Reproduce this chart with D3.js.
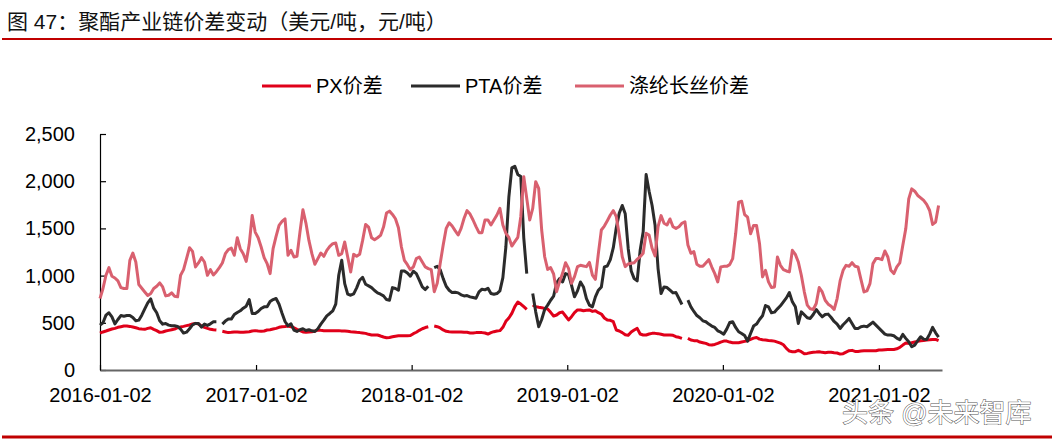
<!DOCTYPE html>
<html><head><meta charset="utf-8">
<script src="https://cdn.jsdelivr.net/npm/d3@7"></script>
<style>body{margin:0;background:#fff} svg{display:block}</style>
</head><body>
<svg id="c" width="1054" height="439"></svg>
<script>
// ---- data (weekly observations starting 2016-01-02) ----
const startDate = "2016-01-02";
const seriesNames = ["PX价差", "PTA价差", "涤纶长丝价差"];
const xTickLabels = ["2016-01-02", "2017-01-02", "2018-01-02", "2019-01-02", "2020-01-02", "2021-01-02"];
const yTicks = [0, 500, 1000, 1500, 2000, 2500];

const pxSpread = [
390,403,413,424,434,441,452,459,466,466,
462,455,448,438,434,431,441,448,431,417,
399,403,413,420,427,434,448,455,462,470,
477,487,494,487,466,452,441,431,427,424,
null,410,403,396,399,403,403,399,399,403,
406,413,417,413,410,413,424,427,434,441,
452,459,462,466,459,448,431,417,403,399,
403,406,413,424,420,417,417,417,417,417,
417,413,413,410,406,403,399,396,392,388,
378,371,371,371,360,350,342,345,352,358,
362,363,363,363,365,385,400,420,437,450,
458,null,466,459,445,424,410,406,403,403,
403,403,399,399,392,392,396,396,396,392,
381,396,406,413,417,452,516,551,600,671,
720,699,671,643,null,689,671,664,660,653,
646,611,572,583,607,614,572,530,565,607,
636,636,628,632,636,621,628,607,593,551,
530,526,512,424,413,396,374,367,403,424,
441,381,371,371,381,388,388,385,378,371,
371,371,367,353,346,335,null,335,318,311,
311,296,289,282,268,264,271,282,296,306,
306,296,289,289,289,296,303,310,324,338,
345,327,320,317,313,310,306,296,285,268,
229,201,194,194,208,194,173,176,183,187,
190,194,187,183,187,187,183,180,169,173,
190,204,208,197,197,201,204,204,204,204,
204,211,211,215,218,218,218,225,239,264,
285,282,289,296,303,310,313,317,320,324,
324,310];

const ptaSpread = [
475,500,581,606,563,489,535,577,570,577,
577,556,521,528,581,648,711,753,655,606,
521,486,493,475,468,468,461,433,391,401,
437,479,493,493,454,486,472,489,511,511,
null,486,518,539,539,588,609,627,655,676,
746,599,599,620,651,669,669,725,746,757,
697,602,514,468,489,423,408,426,437,419,
426,415,408,437,486,528,574,599,627,697,
1004,1162,915,803,792,806,870,951,982,908,
891,873,842,817,803,785,746,739,873,863,
845,1049,1049,1028,993,1046,1021,951,880,852,
887,null,1085,1099,1063,968,887,845,820,824,
817,796,785,789,775,768,761,827,856,849,
866,810,803,810,838,979,1303,1831,2141,2158,
2070,2049,1400,1021,null,810,616,458,535,641,
687,739,782,922,968,933,1021,1011,898,775,
838,933,880,757,687,669,775,845,880,1092,
1102,1169,1296,1507,1662,1743,1655,1285,1049,968,
944,1268,1461,2070,1894,1743,1532,1074,810,880,
873,845,817,820,757,694,null,739,669,620,
577,553,521,511,486,465,451,415,401,380,
433,503,511,451,405,387,366,306,387,465,
486,535,574,683,669,606,613,648,680,722,
764,820,722,669,493,616,585,553,546,588,
641,599,563,588,592,556,514,486,440,479,
511,546,493,440,440,458,465,458,482,507,
475,444,412,380,370,370,363,338,320,377,
335,299,246,264,310,352,327,324,380,451,
394,349];

const filamentSpread = [
757,863,1004,1084,993,975,944,873,863,863,
1162,1239,1144,905,866,827,789,810,863,887,
922,880,785,792,817,782,775,1003,1063,1180,
1296,1257,1092,1134,1190,1144,1003,1063,1007,1042,
1084,1134,1232,1275,1292,1215,1401,1285,1232,1151,
1331,1637,1461,1401,1303,1190,1127,1021,1285,1415,
1532,1574,1602,1215,1268,1197,1204,1461,1697,1556,
1373,1232,1120,1180,1239,1204,1268,1310,1338,1345,
1215,1232,1356,1197,1039,1225,1204,1225,1373,1542,
1514,1401,1380,1401,1426,1514,1662,1683,1648,1602,
1507,1303,1162,1116,1063,1092,1180,1197,1144,1092,
1074,1063,830,918,1130,1324,1500,1560,1525,1476,
1430,1500,1607,1688,1652,1589,1518,1455,1455,1589,
1589,1536,1589,1642,1712,1536,1448,1405,1313,1359,
1405,1624,2048,1818,1589,1712,1995,1924,1483,1200,
1066,1084,1017,830,936,1024,1137,1077,918,989,
1095,1109,1102,1095,1140,1006,960,1236,1483,1525,
1582,1642,1688,1624,1430,1200,1095,1123,1130,1137,
1172,1200,1236,1448,1430,1289,1208,1518,1635,1554,
1536,1600,1518,1500,1518,1554,1571,1324,1236,1254,
1120,1098,1098,1133,1169,1091,1021,933,1091,1098,
1098,1116,1179,1443,1778,1788,1647,1619,1443,1531,
1531,1338,986,1056,933,873,880,1197,1109,1063,
1049,1039,1268,1225,1144,1004,828,687,648,641,
704,873,827,739,697,676,641,757,944,1056,
1109,1099,1137,1099,1092,958,827,838,915,1127,
1180,1180,1169,1261,1197,1056,1021,1092,1134,1320,
1496,1813,1919,1894,1849,1824,1796,1754,1690,1542,
1567,1743];

// ---- chart ----
const colors = ["#e0001a", "#2b2b2b", "#d9606f"];
const parse = d3.timeParse("%Y-%m-%d");
const t0 = parse(startDate);
const dates = d3.range(pxSpread.length).map(i => d3.timeDay.offset(t0, 7 * i));

const svg = d3.select("#c");
const latin = "'Liberation Sans', Arial, 'Noto Sans CJK SC', sans-serif";

// title + rules
svg.append("text").attr("x", 7).attr("y", 29)
  .attr("font-family", latin).attr("font-size", 21).attr("fill", "#111")
  .text("图 47：聚酯产业链价差变动（美元/吨，元/吨）");
svg.append("line").attr("x1", 2).attr("x2", 1052).attr("y1", 39).attr("y2", 39)
  .attr("stroke", "#c00000").attr("stroke-width", 2);
svg.append("line").attr("x1", 2).attr("x2", 1052).attr("y1", 437).attr("y2", 437)
  .attr("stroke", "#c00000").attr("stroke-width", 3);

const x = d3.scaleTime().domain([parse("2016-01-02"), parse("2021-05-30")]).range([100, 942]);
const y = d3.scaleLinear().domain([0, 2500]).range([370, 134]);

// y axis
const ya = svg.append("g").attr("transform", "translate(100,0)")
  .call(d3.axisLeft(y).tickValues(yTicks).tickSize(-6).tickSizeOuter(0).tickPadding(25).tickFormat(d3.format(",")));
ya.select(".domain").attr("stroke", "#000").attr("stroke-width", 1.2);
ya.selectAll(".tick line").attr("stroke", "#000").attr("stroke-width", 1.2);
ya.selectAll("text").attr("font-family", latin).attr("font-size", 20).attr("fill", "#000");

// x axis
const xa = svg.append("g").attr("transform", "translate(0,370)")
  .call(d3.axisBottom(x).tickValues(xTickLabels.map(parse)).tickSize(-5).tickSizeOuter(0).tickPadding(18)
    .tickFormat(d3.timeFormat("%Y-%m-%d")));
xa.select(".domain").attr("stroke", "#666").attr("stroke-width", 2);
xa.selectAll(".tick line").attr("stroke", "#000").attr("stroke-width", 1.2);
xa.selectAll("text").attr("font-family", latin).attr("font-size", 20).attr("fill", "#000");

// lines
const line = d3.line().defined(d => d[1] != null).x(d => x(d[0])).y(d => y(d[1]));
[pxSpread, ptaSpread, filamentSpread].forEach((s, k) => {
  svg.append("path").datum(s.map((v, i) => [dates[i], v]))
    .attr("fill", "none").attr("stroke", colors[k]).attr("stroke-width", 3)
    .attr("stroke-linejoin", "round").attr("d", line);
});

// legend
const legendX = [262, 411, 575];
seriesNames.forEach((n, k) => {
  const g = svg.append("g").attr("transform", `translate(${legendX[k]},86)`);
  g.append("line").attr("x1", 0).attr("x2", 49).attr("stroke", colors[k]).attr("stroke-width", 3);
  g.append("text").attr("x", 54).attr("dy", "0.35em").attr("font-family", latin)
    .attr("font-size", 20).attr("fill", "#000").text(n);
});

// watermark
svg.append("text").attr("x", 842).attr("y", 422)
  .attr("font-family", latin).attr("font-size", 26).attr("fill", "#fff")
  .attr("stroke", "#555").attr("stroke-width", 1).attr("paint-order", "stroke")
  .text("头条 @未来智库");
</script>
</body></html>
